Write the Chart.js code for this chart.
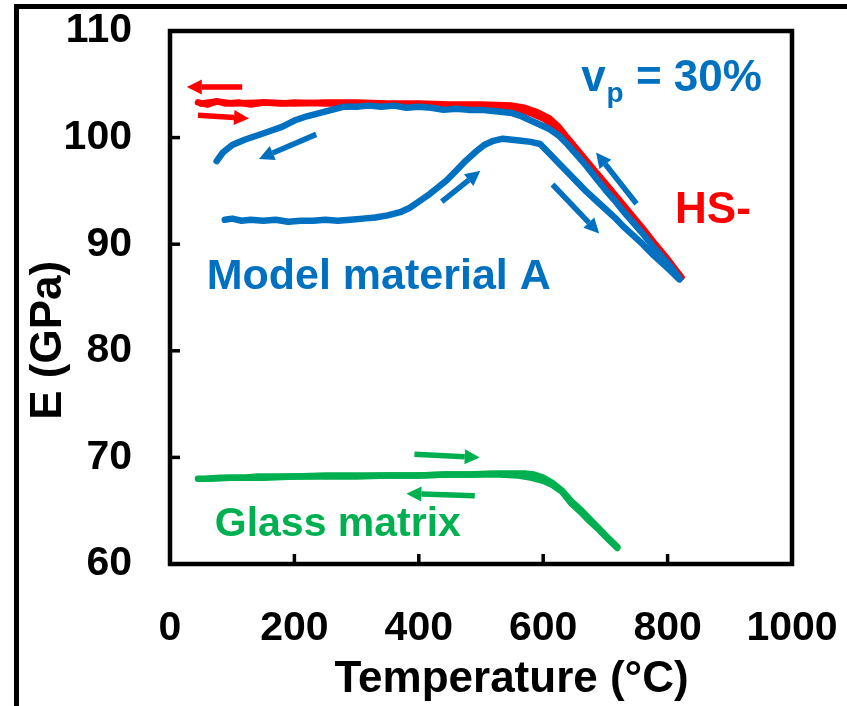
<!DOCTYPE html>
<html><head><meta charset="utf-8">
<script src="https://cdn.jsdelivr.net/npm/chart.js@4"></script>
<style>html,body{margin:0;padding:0;background:#fff;overflow:hidden}</style>
</head><body>
<canvas id="c" width="847" height="706"></canvas>
<script>
// ---------- data ----------
const xTicks = [0, 200, 400, 600, 800, 1000];
const yTicks = [60, 70, 80, 90, 100, 110];

// HS- (red): heating then cooling
const hsHeatT = [45,60,75,90,110,130,150,180,200,250,300,350,400,450,500,540,560,580,600,620,640,660,680,700,720,740,760,780,800,822];
const hsHeatE = [103.3,103.1,103.4,103.2,103.3,103.1,103.3,103.2,103.3,103.2,103.2,103.1,103.0,102.9,102.9,102.8,102.7,102.3,101.8,101.0,99.6,98.2,96.8,95.4,94.0,92.6,91.2,89.8,88.4,86.9];
const hsCoolT = [822,800,780,760,740,720,700,680,660,640,625,610,590,570,550,500,450,400,350,300,250,200,150,100,75,50];
const hsCoolE = [86.9,88.6,90.0,91.5,92.9,94.3,95.7,97.1,98.5,99.9,101.0,101.8,102.4,102.8,103.0,103.1,103.1,103.2,103.2,103.3,103.3,103.2,103.3,103.2,103.4,103.2];

// Model material A (blue)
const maHeatT = [88,100,115,130,150,170,190,210,230,250,270,290,310,330,350,370,385,400,415,430,445,460,475,490,505,520,535,550,565,580,595,610,625,640,655,670,685,700,715,730,745,760,775,790,805,819];
const maHeatE = [92.3,92.4,92.2,92.3,92.2,92.3,92.1,92.2,92.2,92.3,92.2,92.3,92.4,92.5,92.7,93.0,93.4,94.0,94.6,95.3,96.0,96.9,97.8,98.6,99.3,99.7,99.9,99.8,99.7,99.6,99.4,98.5,97.6,96.7,95.8,94.9,94.1,93.3,92.5,91.6,90.8,90.0,89.1,88.3,87.5,86.7];
const maCoolT = [819,805,790,775,760,745,730,715,700,685,670,655,640,625,610,595,580,565,550,535,520,500,480,460,440,420,400,380,360,340,320,300,280,260,240,220,200,180,160,140,120,100,85,75];
const maCoolE = [86.8,87.9,88.9,89.9,91.0,92.0,93.0,94.1,95.1,96.2,97.3,98.3,99.3,100.2,100.8,101.2,101.6,102.0,102.3,102.4,102.5,102.6,102.6,102.7,102.6,102.8,102.9,102.8,103.0,102.9,103.0,102.9,102.9,102.6,102.3,102.0,101.6,101.0,100.6,100.2,99.8,99.3,98.6,97.8];

// Glass matrix (green)
const gmHeatT = [45,60,80,100,120,140,170,200,250,300,350,400,450,500,530,560,580,600,615,630,645,660,675,690,705,719];
const gmHeatE = [68.0,68.0,68.1,68.1,68.1,68.2,68.2,68.2,68.3,68.3,68.3,68.3,68.4,68.4,68.4,68.3,68.1,67.8,67.4,66.8,65.7,64.9,64.0,63.2,62.3,61.5];
const gmCoolT = [719,705,690,675,660,645,630,615,600,585,570,550,520,480,440,400,350,300,250,200,150,100,60];
const gmCoolE = [61.6,62.4,63.3,64.2,65.1,65.9,66.9,67.6,68.1,68.4,68.5,68.5,68.5,68.4,68.4,68.3,68.3,68.2,68.2,68.2,68.1,68.1,68.0];

// arrows (data units)
const arrowColor = ['#FF0000','#FF0000','#0070C0','#0070C0','#0070C0','#0070C0','#00B050','#00B050'];
const arrowFromT = [116, 45, 235, 437, 615, 750, 393, 490];
const arrowFromE = [104.75, 102.1, 100.3, 94.0, 95.6, 93.8, 70.3, 66.4];
const arrowToT   = [27, 127, 143, 499, 690, 685, 498, 380];
const arrowToE   = [104.75, 101.8, 98.0, 96.9, 91.0, 98.6, 70.0, 66.6];

// text labels (data units, left/baseline)
const labelText  = ['HS-', 'Model material A', 'Glass matrix'];
const labelT     = [812, 59, 72];
const labelE     = [92.0, 85.8, 62.6];
const labelColor = ['#FF0000', '#0070C0', '#00B050'];
const labelSize  = [44, 43, 41];

const FONT = '"Liberation Sans", Arial, sans-serif';
const RED = '#FF0000', BLUE = '#0070C0', GREEN = '#00B050';

function pts(T, E) { return T.map((t, i) => ({ x: t, y: E[i] })); }
function ds(data, color) {
  return { data, showLine: true, borderColor: color, backgroundColor: color, borderWidth: 6.5,
           pointRadius: 0, tension: 0, borderCapStyle: 'round', borderJoinStyle: 'round' };
}

function drawArrow(ctx, x1, y1, x2, y2, color) {
  const ang = Math.atan2(y2 - y1, x2 - x1);
  const hl = 15, hw = 7.5;
  const bx = x2 - hl * Math.cos(ang), by = y2 - hl * Math.sin(ang);
  ctx.strokeStyle = color; ctx.fillStyle = color; ctx.lineWidth = 5.5; ctx.lineCap = 'butt';
  ctx.beginPath(); ctx.moveTo(x1, y1); ctx.lineTo(bx, by); ctx.stroke();
  ctx.beginPath();
  ctx.moveTo(x2, y2);
  ctx.lineTo(bx + hw * Math.sin(ang), by - hw * Math.cos(ang));
  ctx.lineTo(bx - hw * Math.sin(ang), by + hw * Math.cos(ang));
  ctx.closePath(); ctx.fill();
}

const deco = {
  id: 'deco',
  afterDraw(chart) {
    const { ctx, chartArea: a, scales: { x, y } } = chart;
    ctx.save();
    // outer frame
    ctx.strokeStyle = '#000'; ctx.lineWidth = 5;
    ctx.beginPath(); ctx.moveTo(16.5, 720); ctx.lineTo(16.5, 6.5); ctx.lineTo(870, 6.5); ctx.stroke();
    // plot box
    ctx.lineWidth = 4.5;
    ctx.strokeRect(a.left, a.top, a.right - a.left, a.bottom - a.top);
    // inward ticks
    ctx.lineWidth = 3.5;
    xTicks.forEach(v => { const p = x.getPixelForValue(v); ctx.beginPath(); ctx.moveTo(p, a.bottom); ctx.lineTo(p, a.bottom - 10); ctx.stroke(); });
    yTicks.forEach(v => { const p = y.getPixelForValue(v); ctx.beginPath(); ctx.moveTo(a.left, p); ctx.lineTo(a.left + 10, p); ctx.stroke(); });
    // arrows
    arrowColor.forEach((c, i) => drawArrow(ctx, x.getPixelForValue(arrowFromT[i]), y.getPixelForValue(arrowFromE[i]),
      x.getPixelForValue(arrowToT[i]), y.getPixelForValue(arrowToE[i]), c));
    // labels
    ctx.textAlign = 'left'; ctx.textBaseline = 'alphabetic';
    labelText.forEach((s, i) => {
      ctx.fillStyle = labelColor[i]; ctx.font = 'bold ' + labelSize[i] + 'px ' + FONT;
      ctx.fillText(s, x.getPixelForValue(labelT[i]), y.getPixelForValue(labelE[i]));
    });
    // v_p = 30%
    let px = x.getPixelForValue(661), py = y.getPixelForValue(104.4);
    ctx.fillStyle = BLUE;
    ctx.font = 'bold 44px ' + FONT; ctx.fillText('v', px, py); px += ctx.measureText('v').width;
    ctx.font = 'bold 28px ' + FONT; ctx.fillText('p', px + 1, py + 11); px += ctx.measureText('p').width + 1;
    ctx.font = 'bold 44px ' + FONT; ctx.fillText(' = 30%', px, py);
    ctx.restore();
  }
};

new Chart(document.getElementById('c'), {
  type: 'scatter',
  data: { datasets: [
    ds(pts(gmHeatT, gmHeatE), GREEN), ds(pts(gmCoolT, gmCoolE), GREEN),
    ds(pts(maHeatT, maHeatE), BLUE), ds(pts(maCoolT, maCoolE), BLUE),
    ds(pts(hsHeatT, hsHeatE), RED), ds(pts(hsCoolT, hsCoolE), RED)
  ] },
  options: {
    responsive: false, animation: false, devicePixelRatio: 1,
    layout: { padding: { top: 31, right: 55, left: 0, bottom: 0 } },
    plugins: { legend: { display: false }, tooltip: { enabled: false } },
    scales: {
      x: {
        type: 'linear', min: 0, max: 1000,
        afterBuildTicks: s => { s.ticks = xTicks.map(v => ({ value: v })); },
        afterFit: s => { s.height = 142; s.paddingLeft = 0; s.paddingRight = 0; },
        grid: { display: false, drawTicks: false }, border: { display: false },
        ticks: { color: '#000', padding: 40, maxRotation: 0, autoSkip: false, callback: v => String(v),
                 font: { family: FONT, size: 41, weight: 'bold' } },
        title: { display: true, text: '     Temperature (°C)', color: '#000', padding: { top: 0, bottom: 0 },
                 font: { family: FONT, size: 44, weight: 'bold' } }
      },
      y: {
        type: 'linear', min: 60, max: 110,
        afterBuildTicks: s => { s.ticks = yTicks.map(v => ({ value: v })); },
        afterFit: s => { s.width = 170; s.paddingTop = 0; s.paddingBottom = 0; },
        grid: { display: false, drawTicks: false }, border: { display: false },
        ticks: { color: '#000', padding: 38, autoSkip: false, callback: v => String(v),
                 font: { family: FONT, size: 41, weight: 'bold' } },
        title: { display: true, text: 'E (GPa)       ', color: '#000', padding: { top: 22, bottom: 0 },
                 font: { family: FONT, size: 44, weight: 'bold' } }
      }
    }
  },
  plugins: [deco]
});
</script>
</body></html>
